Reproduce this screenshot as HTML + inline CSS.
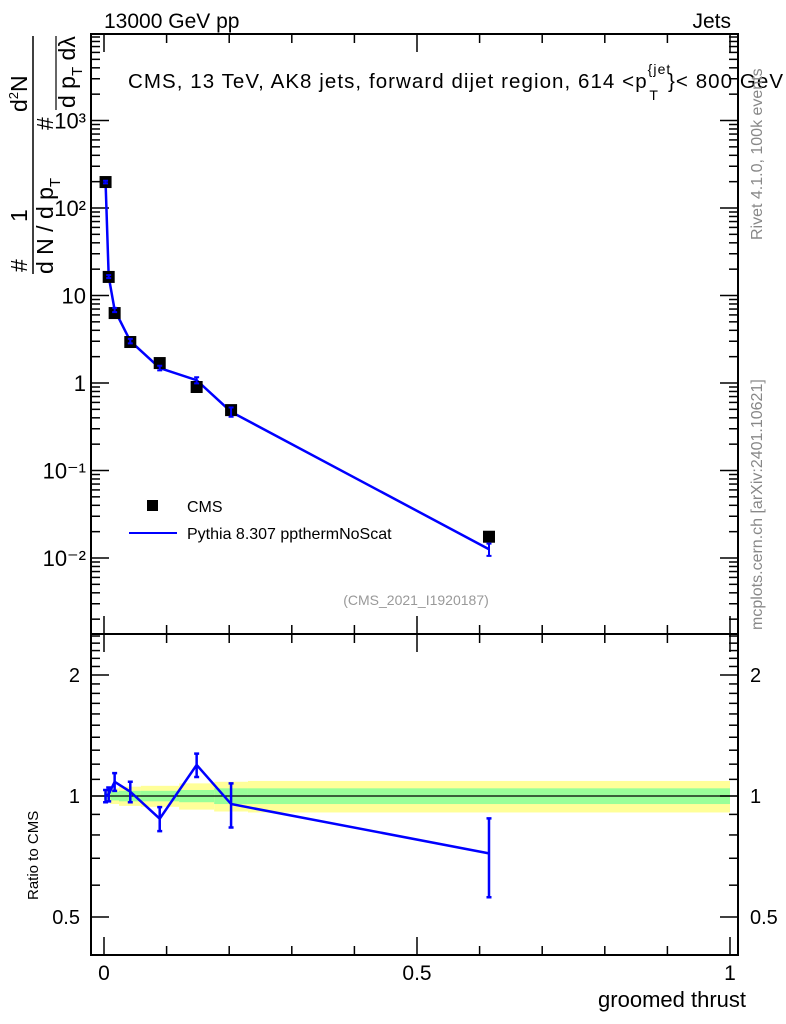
<!DOCTYPE html>
<html><head><meta charset="utf-8"><style>
body{margin:0;background:#fff;}
svg{display:block;font-family:"Liberation Sans",sans-serif;}
</style></head><body>
<svg id="c" width="786" height="1024" viewBox="0 0 786 1024">
<g id="bands"></g>
<g id="axes"></g>
<g id="series"></g>
<text x="104" y="28" font-size="21">13000 GeV pp</text>
<text x="731" y="28" font-size="21" text-anchor="end">Jets</text>
<text x="128" y="88" font-size="20.5" textLength="655">CMS, 13 TeV, AK8 jets, forward dijet region, 614 &lt;p<tspan font-size="14" dy="-14">{jet</tspan><tspan font-size="14" dx="-22" dy="26">T</tspan><tspan dx="9" dy="-12">}&lt; 800 GeV</tspan></text>
<text x="416" y="605" font-size="14" fill="#999" text-anchor="middle">(CMS_2021_I1920187)</text>
<text transform="translate(762,240) rotate(-90)" font-size="16" fill="#888">Rivet 4.1.0,  100k events</text>
<text transform="translate(762,630) rotate(-90)" font-size="16" fill="#888">mcplots.cern.ch [arXiv:2401.10621]</text>
<text transform="translate(38,900) rotate(-90)" font-size="15">Ratio to CMS</text>
<text x="746" y="1007" font-size="22" text-anchor="end">groomed thrust</text>
<g font-size="23">
<text transform="translate(27,272) rotate(-90)">#</text>
<text transform="translate(27,222) rotate(-90)">1</text>
<line x1="33" y1="36" x2="33" y2="274" stroke="#000" stroke-width="1.5"/>
<text transform="translate(53,274) rotate(-90)">d N / d p<tspan font-size="15" dy="7">T</tspan></text>
<text transform="translate(27,112) rotate(-90)">d<tspan font-size="13" dy="-9">2</tspan><tspan dy="9">N</tspan></text>
<text transform="translate(53,130) rotate(-90)">#</text>
<line x1="56" y1="36" x2="56" y2="110" stroke="#000" stroke-width="1.2"/>
<text transform="translate(75,108) rotate(-90)">d p<tspan font-size="15" dy="7">T</tspan><tspan dy="-7"> dλ</tspan></text>
</g>
<g>
<rect x="147" y="500" width="11" height="11" fill="#000"/>
<text x="187" y="512" font-size="16">CMS</text>
<line x1="129" y1="533" x2="177" y2="533" stroke="#00f" stroke-width="2"/>
<text x="187" y="539" font-size="16">Pythia 8.307 ppthermNoScat</text>
</g>
</svg>
<script>
const binEdges=[0,0.005,0.01,0.024,0.059,0.12,0.176,0.23,1.0];
const xCenters=[0.0025,0.0075,0.017,0.042,0.089,0.148,0.203,0.615];
const cmsVals=[198,16.3,6.3,2.94,1.69,0.90,0.49,0.0175];
const ratioVals=[1.0,1.01,1.085,1.025,0.878,1.195,0.955,0.72];
const ratioErr=[0.035,0.04,0.055,0.06,0.06,0.08,0.12,0.16];
const greenHalf=[0.02,0.02,0.025,0.03,0.03,0.035,0.045,0.045];
const yellowHalf=[0.03,0.03,0.045,0.055,0.06,0.075,0.085,0.09];
const ratioTicks=[0.5,1,2];
const mainTicks=[0.01,0.1,1,10,100,1000];
const mainTickLabels=["10⁻²","10⁻¹","1","10","10²","10³"];
const xTicks=[0,0.5,1];

const NS="http://www.w3.org/2000/svg";
const L=91,R=738,T=34,MB=634,RB=955;
const X=v=>104+626*v;
const YM=v=>383-87.5*Math.log10(v);
const YR=v=>796-402*Math.log10(v);
function mk(parent,tag,attrs){const e=document.createElementNS(NS,tag);for(const k in attrs)e.setAttribute(k,attrs[k]);document.getElementById(parent).appendChild(e);return e;}

for(let i=0;i<binEdges.length-1;i++){
  const x1=X(binEdges[i]),x2=X(binEdges[i+1]);
  let e=mk('bands','rect',{x:x1,y:YR(1+yellowHalf[i]),width:x2-x1,height:YR(1-yellowHalf[i])-YR(1+yellowHalf[i]),fill:'#ffff99'});
  
  
  e=mk('bands','rect',{x:x1,y:YR(1+greenHalf[i]),width:x2-x1,height:YR(1-greenHalf[i])-YR(1+greenHalf[i]),fill:'#99ff99'});
  
  
}
let f=mk('axes','rect',{x:L,y:T,width:R-L,height:MB-T,fill:'none',stroke:'#000','stroke-width':2});


f=mk('axes','rect',{x:L,y:MB,width:R-L,height:RB-MB,fill:'none',stroke:'#000','stroke-width':2});


mk('axes','line',{x1:L,x2:R,y1:YR(1),y2:YR(1),stroke:'#000','stroke-width':1.2});
for(let k=0;k<=10;k++){
  const v=k/10,x=X(v),len=(k%5==0)?18:9;
  [[T,1],[MB,-1],[MB,1],[RB,-1]].forEach(([y,d])=>mk('axes','line',{x1:x,x2:x,y1:y,y2:y+d*len,stroke:'#000','stroke-width':1.5}));
}
xTicks.forEach(v=>{const t=mk('axes','text',{x:X(v),y:980,'font-size':21,'text-anchor':'middle'});t.textContent=String(v);

});
for(let d=-3;d<=3;d++)for(let m=1;m<10;m++){
  const v=m*Math.pow(10,d),y=YM(v);if(y<T||y>MB)continue;
  const len=m==1?18:9;
  mk('axes','line',{x1:L,x2:L+len,y1:y,y2:y,stroke:'#000','stroke-width':1.5});
  mk('axes','line',{x1:R,x2:R-len,y1:y,y2:y,stroke:'#000','stroke-width':1.5});
}
mainTicks.forEach((v,i)=>{const t=mk('axes','text',{x:86,y:YM(v)+8,'font-size':22,'text-anchor':'end'});t.textContent=mainTickLabels[i];

});
for(let k=4;k<=25;k++){
  const v=k/10,y=YR(v);if(y<MB||y>RB)continue;
  const major=(v==0.5||v==1||v==2),len=major?18:9;
  mk('axes','line',{x1:L,x2:L+len,y1:y,y2:y,stroke:'#000','stroke-width':1.5});
  mk('axes','line',{x1:R,x2:R-len,y1:y,y2:y,stroke:'#000','stroke-width':1.5});
}
ratioTicks.forEach(v=>{const lab=v==0.5?'0.5':String(v);
 let t=mk('axes','text',{x:80,y:YR(v)+7,'font-size':20,'text-anchor':'end'});t.textContent=lab;
 
 
 t=mk('axes','text',{x:750,y:YR(v)+7,'font-size':20});t.textContent=lab;
 
 });
const mcVals=cmsVals.map((v,i)=>v*ratioVals[i]);
let pl=mk('series','polyline',{points:xCenters.map((x,i)=>X(x)+','+YM(mcVals[i])).join(' '),fill:'none',stroke:'#00f','stroke-width':2.5});


xCenters.forEach((x,i)=>{
  const r=mk('series','rect',{x:X(x)-6,y:YM(cmsVals[i])-6,width:12,height:12,fill:'#000'});
  
  
  const e=ratioErr[i]*mcVals[i];
  const y1=YM(mcVals[i]+e),y2=YM(Math.max(mcVals[i]-e,1e-6)),cx=X(x);
  mk('series','path',{d:`M${cx},${y1}V${y2}M${cx-2.5},${y1}H${cx+2.5}M${cx-2.5},${y2}H${cx+2.5}`,stroke:'#00f','stroke-width':2,fill:'none'});
});
pl=mk('series','polyline',{points:xCenters.map((x,i)=>X(x)+','+YR(ratioVals[i])).join(' '),fill:'none',stroke:'#00f','stroke-width':2.5});


xCenters.forEach((x,i)=>{
  const y1=YR(ratioVals[i]+ratioErr[i]),y2=YR(ratioVals[i]-ratioErr[i]),cx=X(x);
  const g=mk('series','path',{d:`M${cx},${y1}V${y2}M${cx-2.5},${y1}H${cx+2.5}M${cx-2.5},${y2}H${cx+2.5}`,stroke:'#00f','stroke-width':2.5,fill:'none'});
  
  
});
</script>
</body></html>
